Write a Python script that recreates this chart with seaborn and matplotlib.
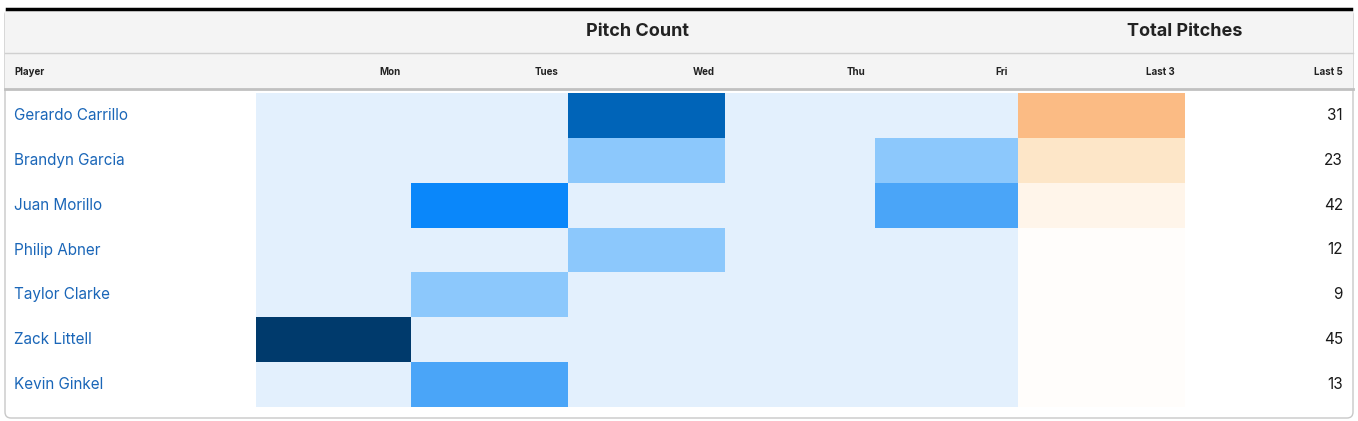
import numpy as np
import pandas as pd
import matplotlib.pyplot as plt
import seaborn as sns
from matplotlib.colors import ListedColormap, BoundaryNorm
from matplotlib.patches import FancyBboxPatch, Rectangle

players = ['Gerardo Carrillo', 'Brandyn Garcia', 'Juan Morillo', 'Philip Abner',
           'Taylor Clarke', 'Zack Littell', 'Kevin Ginkel']
days = ['Mon', 'Tues', 'Wed', 'Thu', 'Fri']
mon = [0, 0, 0, 0, 0, 45, 0]
tues = [0, 0, 23, 0, 9, 0, 13]
wed = [31, 12, 0, 12, 0, 0, 0]
thu = [0, 0, 0, 0, 0, 0, 0]
fri = [0, 11, 19, 0, 0, 0, 0]
last3 = [31, 23, 19, 12, 0, 0, 0]
last5 = [31, 23, 42, 12, 9, 45, 13]

W, H = 1358, 421
fig = plt.figure(figsize=(W / 100, H / 100), dpi=100)
plt.rcParams['font.family'] = ['Inter', 'DejaVu Sans']

def fax(x0, y0, x1, y1):
    return fig.add_axes([x0 / W, 1 - y1 / H, (x1 - x0) / W, (y1 - y0) / H])

bg = fax(0, 0, W, H)
bg.set_xlim(0, W); bg.set_ylim(H, 0); bg.axis('off')
bg.add_patch(FancyBboxPatch((5, 9), 1348, 409, boxstyle='round,pad=0,rounding_size=6',
                            fc='white', ec='#c8c8c8', lw=1))
bg.add_patch(Rectangle((5, 9), 1348, 80, fc='#f4f4f4', ec='none'))
bg.plot([7, 1351], [9, 9], color='black', lw=2.5)
bg.plot([5, 1353], [53, 53], color='#d0d0d0', lw=1)
bg.plot([5, 1353], [89, 89], color='#c0c0c0', lw=2)

top, bottom = 93, 407
x_days = [256, 411, 568, 725, 875, 1018]
x_l3 = (1018, 1185)

blue_cmap = ListedColormap(['#e3f0fd', '#8cc8fc', '#4aa5f8', '#0a87fa', '#0064b8', '#003a6c'])
blue_norm = BoundaryNorm([-0.5, 0.5, 12.5, 19.5, 29.5, 40.5, 60], blue_cmap.N)
orange_cmap = ListedColormap(['#fffdfb', '#fff5ea', '#fde6c8', '#fbbb84'])
orange_norm = BoundaryNorm([-0.5, 12.5, 19.5, 29.5, 60], orange_cmap.N)

day_df = pd.DataFrame({'Mon': mon, 'Tues': tues, 'Wed': wed, 'Thu': thu, 'Fri': fri},
                      index=players)
for j, d in enumerate(days):
    ax = fax(x_days[j], top, x_days[j + 1], bottom)
    sns.heatmap(day_df[[d]], ax=ax, cmap=blue_cmap, norm=blue_norm, cbar=False,
                xticklabels=False, yticklabels=False)
    ax.axis('off')

ax3 = fax(*x_l3[:1], top, x_l3[1], bottom)
sns.heatmap(pd.DataFrame({'Last 3': last3}, index=players), ax=ax3, cmap=orange_cmap,
            norm=orange_norm, cbar=False, xticklabels=False, yticklabels=False)
ax3.axis('off')

row_h = (bottom - top) / len(players)
right_edges = x_days[1:] + [x_l3[1], 1353]
cols = [mon, tues, wed, thu, fri, last3, last5]
for i, p in enumerate(players):
    yc = top + row_h * (i + 0.5)
    bg.text(14, yc, p, color='#1a66b8', fontsize=11, va='center', ha='left')
    for j, vals in enumerate(cols):
        v = vals[i]
        dark = j < 5 and v >= 20
        bg.text(right_edges[j] - 10, yc, str(v), fontsize=11, va='center', ha='right',
                color='white' if dark else '#1a1a1a', fontweight='bold' if dark else 'normal')

bg.text(14, 72, 'Player', fontsize=7, fontweight='bold', va='center', color='#222222')
for j, d in enumerate(days + ['Last 3', 'Last 5']):
    bg.text(right_edges[j] - 10, 72, d, fontsize=7, fontweight='bold', va='center',
            ha='right', color='#222222')
bg.text(637, 32, 'Pitch Count', fontsize=13, fontweight='bold', ha='center', va='center',
        color='#222222')
bg.text(1185, 32, 'Total Pitches', fontsize=13, fontweight='bold', ha='center', va='center',
        color='#222222')

fig.savefig('out.png', dpi=100)
